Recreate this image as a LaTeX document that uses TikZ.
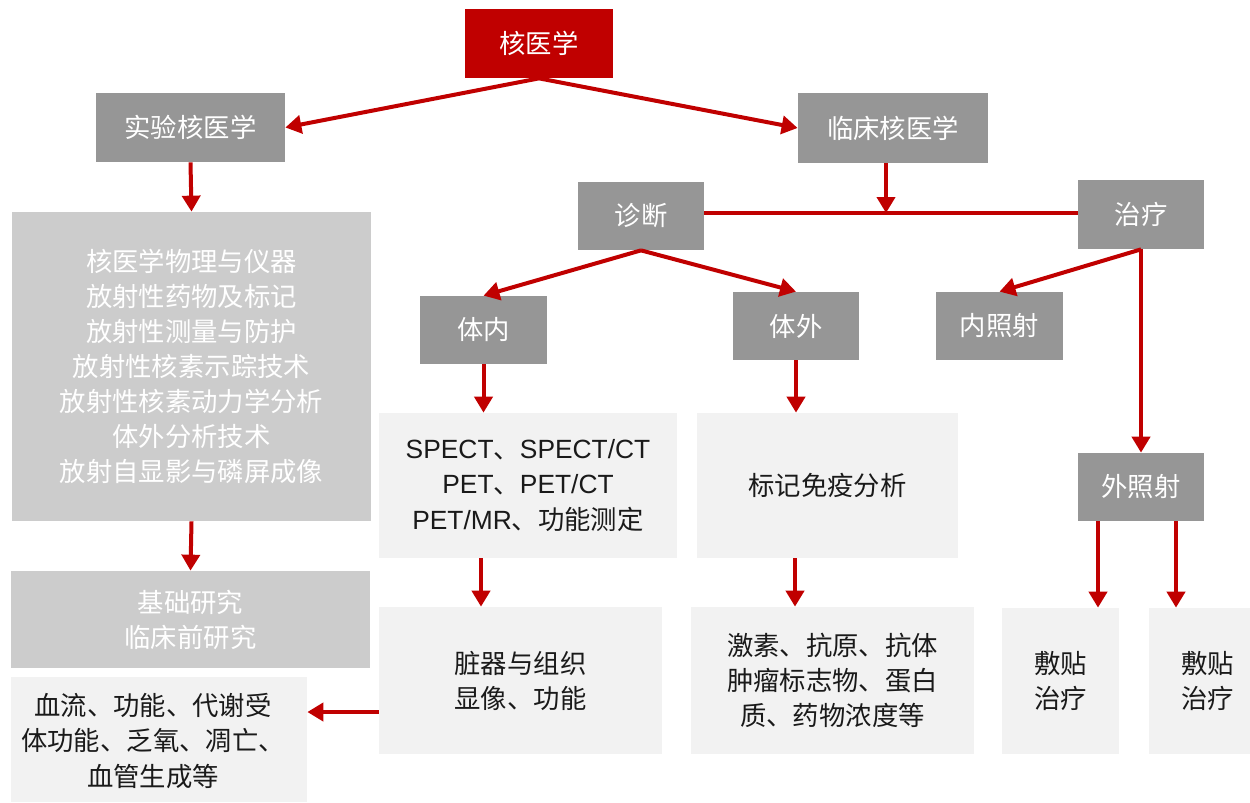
\documentclass[tikz,border=0pt]{standalone}
\usepackage{fontspec}
\setmainfont{Liberation Sans}
\newfontfamily\cjk{Noto Sans CJK SC}
\usetikzlibrary{arrows.meta,calc}
\definecolor{nred}{HTML}{C00000}
\definecolor{ngray}{HTML}{969696}
\definecolor{nlgray}{HTML}{CCCCCC}
\definecolor{npale}{HTML}{F2F2F2}
\definecolor{ntext}{HTML}{1A1A1A}
\begin{document}
\begin{tikzpicture}[x=0.02cm,y=-0.02cm,
  sz/.style 2 args={minimum width=#1*0.02cm, minimum height=#2*0.02cm},
  base/.style={inner sep=0pt, align=center, font=\fontsize{15}{20}\selectfont\cjk},
  title/.style={base, fill=nred, text=white},
  hdr/.style={base, fill=ngray, text=white},
  lbox/.style={base, fill=nlgray, text=white},
  pbox/.style={base, fill=npale, text=ntext},
  ln/.style={draw=nred, line width=0.08cm},
  arr/.style={ln, -{Triangle[width=0.36cm,length=0.32cm]}}]
\useasboundingbox (0,0) rectangle (1250,802);

% header boxes
\node[title, sz={148}{69}] (top) at (539,43.5) {核医学};
\node[hdr, sz={189}{69}] (exp) at (190.5,127.5) {实验核医学};
\node[hdr, sz={190}{70}] (clin) at (893,128) {临床核医学};
\node[hdr, sz={126}{68}] (diag) at (641,216) {诊断};
\node[hdr, sz={126}{69}] (treat) at (1141,214.5) {治疗};
\node[hdr, sz={127}{68}] (tinei) at (483.5,330) {体内};
\node[hdr, sz={126}{68}] (tiwai) at (796,326) {体外};
\node[hdr, sz={127}{68}] (neizhao) at (999.5,326) {内照射};
\node[hdr, sz={126}{68}] (waizhao) at (1141,487) {外照射};

% left column
\node[lbox, sz={359}{309}] (big) at (191.5,366.5)
  {核医学物理与仪器\\放射性药物及标记\\放射性测量与防护\\放射性核素示踪技术\\放射性核素动力学分析\\体外分析技术\\放射自显影与磷屏成像};
\node[lbox, sz={359}{97}] (jichu) at (190.5,619.5) {基础研究\\临床前研究};
\node[pbox, sz={296}{125}] (xueliu) at (159,739.5) {};
\node[base, text=ntext] (xueliutxt) at (153,741) {血流、功能、代谢受\\体功能、乏氧、凋亡、\\血管生成等};

% content boxes
\node[pbox, sz={298}{145}, font=\fontsize{15}{20}\selectfont] (spect) at (528,485.5)
  {SPECT{\cjk 、}SPECT/CT\\PET{\cjk 、}PET/CT\\PET/MR{\cjk 、功能测定}};
\node[pbox, sz={261}{145}] (biaoji) at (827.5,485.5) {标记免疫分析};
\node[pbox, sz={283}{147}] (zangqi) at (520.5,680.5) {脏器与组织\\显像、功能};
\node[pbox, sz={283}{147}] (jisu) at (832.5,680.5) {激素、抗原、抗体\\肿瘤标志物、蛋白\\质、药物浓度等};
\node[pbox, sz={117}{146}] (fu1) at (1060.5,681) {敷贴\\治疗};
\node[pbox, sz={117}{146}] (fu2) at (1207.5,681) {敷贴\\治疗};

% connectors
\draw[arr] (top.south) -- (exp.east);
\draw[arr] (top.south) -- (clin.west);
\draw[arr] (exp.south) -- (big.north);
\draw[arr] (big.south) -- (jichu.north);

\coordinate (j) at (886,213);
\draw[ln] (diag.east |- j) -- (treat.west |- j);
\draw[arr] (j |- clin.south) -- (j);

\draw[arr] (diag.south) -- (tinei.north);
\draw[arr] (diag.south) -- (tiwai.north);
\draw[arr] (treat.south) -- (neizhao.north);
\draw[arr] (treat.south) -- (waizhao.north);

\draw[arr] (tinei.south) -- (tinei.south |- spect.north);
\draw[arr] (tiwai.south) -- (tiwai.south |- biaoji.north);
\coordinate (s1) at (481,0);
\draw[arr] (s1 |- spect.south) -- (s1 |- zangqi.north);
\coordinate (b1) at (795,0);
\draw[arr] (b1 |- biaoji.south) -- (b1 |- jisu.north);

\coordinate (w1) at (1098,0);
\coordinate (w2) at (1176,0);
\draw[arr] (w1 |- waizhao.south) -- (w1 |- fu1.north);
\draw[arr] (w2 |- waizhao.south) -- (w2 |- fu2.north);

\coordinate (h) at (0,712);
\draw[arr] (zangqi.west |- h) -- (xueliu.east |- h);
\end{tikzpicture}
\end{document}
